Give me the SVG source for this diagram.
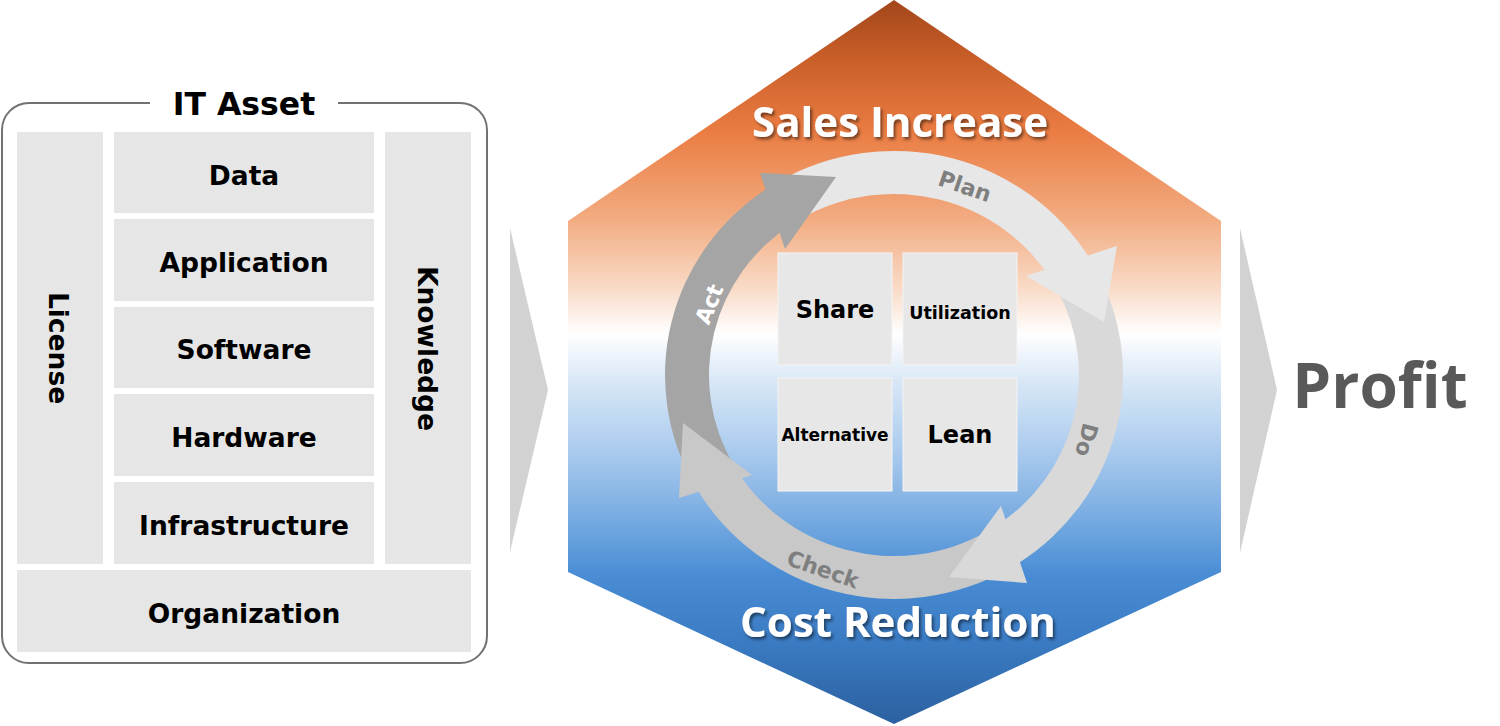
<svg xmlns="http://www.w3.org/2000/svg" width="1500" height="726" viewBox="0 0 1500 726">
<defs>
<linearGradient id="hexGrad" x1="0" y1="0" x2="0" y2="726" gradientUnits="userSpaceOnUse">
<stop offset="0" stop-color="#a3461b"/>
<stop offset="0.08" stop-color="#c85e28"/>
<stop offset="0.18" stop-color="#ea7c42"/>
<stop offset="0.30" stop-color="#f2ab80"/>
<stop offset="0.40" stop-color="#f9dcc9"/>
<stop offset="0.46" stop-color="#ffffff"/>
<stop offset="0.52" stop-color="#dbe9f7"/>
<stop offset="0.62" stop-color="#abcbee"/>
<stop offset="0.72" stop-color="#74a9e0"/>
<stop offset="0.79" stop-color="#4a8dd5"/>
<stop offset="0.88" stop-color="#3b7cc4"/>
<stop offset="1" stop-color="#2b609f"/>
</linearGradient>
<filter id="shadow" x="-10%" y="-40%" width="120%" height="180%">
<feDropShadow dx="2" dy="2.5" stdDeviation="1.5" flood-color="#000000" flood-opacity="0.5"/>
</filter>
<style>
.box{fill:#e6e6e6}
.cbox{fill:#e7e7e7;stroke:#f4f4f4;stroke-width:1}
.lbl{font-family:"DejaVu Sans","Liberation Sans",sans-serif;font-weight:bold;font-size:26.5px;fill:#000000;text-anchor:middle}
.clbl{font-family:"DejaVu Sans","Liberation Sans",sans-serif;font-weight:bold;fill:#000000;text-anchor:middle}
.alb{font-family:"DejaVu Sans","Liberation Sans",sans-serif;font-weight:bold;font-size:22px;fill:#7f7f7f;text-anchor:middle}
.big{font-family:"Open Sans","Noto Sans",sans-serif;font-weight:bold;font-size:42px;fill:#ffffff;text-anchor:middle}
.chev{fill:#d2d2d2}
</style>
</defs>
<rect width="1500" height="726" fill="#ffffff"/>

<g id="it-asset">
<path d="M338,103 H460 A27,27 0 0 1 487,130 V636 A27,27 0 0 1 460,663 H29 A27,27 0 0 1 2,636 V130 A27,27 0 0 1 29,103 H150" fill="none" stroke="#767171" stroke-width="2"/>
<text class="lbl" x="244" y="115" style="font-size:31.5px">IT Asset</text>
</g>
<g id="license"><rect class="box" x="17" y="132" width="86" height="432"/><text class="lbl" transform="translate(49,348) rotate(90)" x="0" y="0">License</text></g>
<g id="data"><rect class="box" x="114" y="132" width="260" height="81"/><text class="lbl" x="244" y="185">Data</text></g>
<g id="application"><rect class="box" x="114" y="219" width="260" height="82"/><text class="lbl" x="244" y="272">Application</text></g>
<g id="software"><rect class="box" x="114" y="307" width="260" height="81"/><text class="lbl" x="244" y="359">Software</text></g>
<g id="hardware"><rect class="box" x="114" y="394" width="260" height="82"/><text class="lbl" x="244" y="447">Hardware</text></g>
<g id="infrastructure"><rect class="box" x="114" y="482" width="260" height="82"/><text class="lbl" x="244" y="535">Infrastructure</text></g>
<g id="knowledge"><rect class="box" x="385" y="132" width="86" height="432"/><text class="lbl" transform="translate(418,348.5) rotate(90)" x="0" y="0">Knowledge</text></g>
<g id="organization"><rect class="box" x="17" y="570" width="454" height="82"/><text class="lbl" x="244" y="623">Organization</text></g>

<g id="chevron-left"><polygon class="chev" points="510,228 548,390 510,552"/></g>

<g id="hexagon">
<polygon points="894,0 1221,221 1221,572 894,724 568,572 568,221" fill="url(#hexGrad)"/>
<text class="big" x="900" y="137" filter="url(#shadow)">Sales Increase</text>
<text class="big" x="898" y="637" filter="url(#shadow)">Cost Reduction</text>
</g>

<g id="connectors">
<path fill="#e7e7e7" d="M779.5,181 A229,224 0 0 1 1090.3,259.6 L1052.6,281.8 A185,181 0 0 0 801.5,218.2 Z"/>
<path fill="#d9d9d9" d="M1096.2,269.8 A229,224 0 0 1 1018.7,562.9 L994.8,526.8 A185,181 0 0 0 1057.3,290 Z"/>
<path fill="#c8c8c8" d="M1008.5,569 A229,224 0 0 1 695.7,487 L733.8,465.5 A185,181 0 0 0 986.5,531.8 Z"/>
<path fill="#a5a5a5" d="M695.7,487 A229,224 0 0 1 769.3,187.1 L793.2,223.2 A185,181 0 0 0 733.8,465.5 Z"/>
<polygon fill="#e7e7e7" points="1117,246 1104,322 1026,276"/>
<polygon fill="#d9d9d9" points="1027,583 949,577 1001,506"/>
<polygon fill="#c8c8c8" points="683,423 679,498 752,475"/>
<polygon fill="#a5a5a5" points="760,173 836,177 785,249"/>
<text class="alb" transform="translate(965,186) rotate(19)" x="0" y="8">Plan</text>
<text class="alb" transform="translate(1087,440) rotate(105)" x="0" y="8">Do</text>
<text class="alb" transform="translate(823,569) rotate(19)" x="0" y="8">Check</text>
<text class="alb" transform="translate(709,304) rotate(-68)" x="0" y="8" style="fill:#ffffff">Act</text>
</g>

<g id="share"><rect class="cbox" x="778" y="253" width="114" height="112"/><text class="clbl" x="835" y="318" style="font-size:24px">Share</text></g>
<g id="utilization"><rect class="cbox" x="903" y="253" width="114" height="112"/><text class="clbl" x="960" y="319" style="font-size:17.5px">Utilization</text></g>
<g id="alternative"><rect class="cbox" x="778" y="378" width="114" height="113"/><text class="clbl" x="835" y="441" style="font-size:17px">Alternative</text></g>
<g id="lean"><rect class="cbox" x="903" y="378" width="114" height="113"/><text class="clbl" x="960" y="443" style="font-size:24px">Lean</text></g>

<g id="chevron-right"><polygon class="chev" points="1240,228 1277,390 1240,553"/></g>
<g id="profit"><text x="1380" y="408" style="font-family:'Open Sans','Noto Sans',sans-serif;font-weight:bold;font-size:62px;fill:#595959;text-anchor:middle">Profit</text></g>
</svg>
